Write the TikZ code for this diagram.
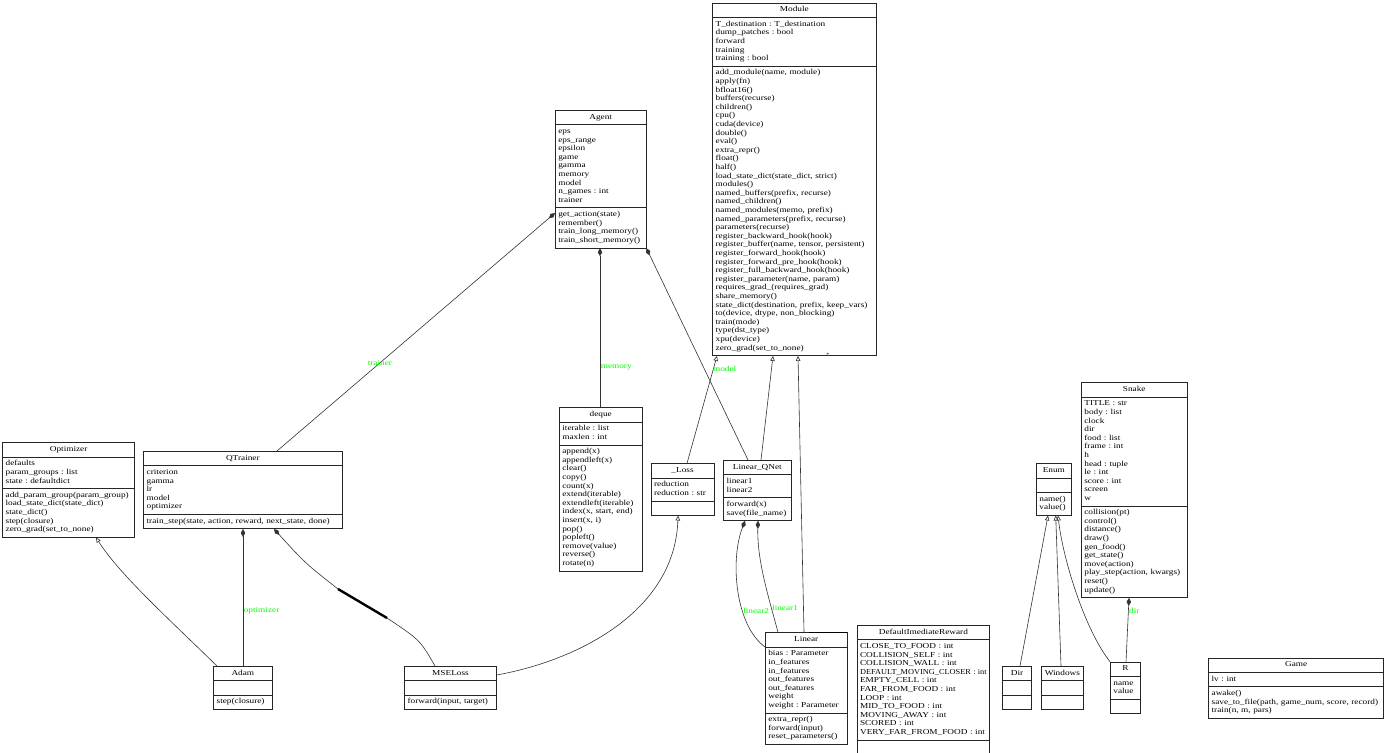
\documentclass[tikz,border=0pt]{standalone}
\usepackage{fontspec}
\usepackage{graphicx}
\setmainfont{Liberation Serif}[FakeStretch=1.22]
\usetikzlibrary{shapes.multipart,arrows.meta}
\frenchspacing
\newcommand{\ctitle}[1]{\makebox[\linewidth]{\strut #1\strut}}

\begin{document}
\begin{tikzpicture}[x=1pt, y=-1pt,
  cls/.style={draw=black!85, line width=0.7pt, rectangle split, rectangle split parts=3,
    align=left, inner xsep=3pt, inner ysep=2.5pt, anchor=north west,
    font=\fontsize{7.6}{8.6}\selectfont},
  inh/.style={draw=black!80, line width=0.6pt, -{Triangle[open, length=5pt, width=4.5pt]}},
  comp/.style={draw=black!80, line width=0.6pt, -{Diamond[length=8pt, width=4.5pt]}},
  lbl/.style={text=green, inner sep=0.5pt, font=\fontsize{7.6}{8.6}\selectfont}]
  \useasboundingbox (0,0) rectangle (1386,752);
  % torch side: Module and the network / loss classes
  \node[cls, text width=157.4pt] (module) at (712.3,2.7) {\ctitle{Module}
    \nodepart{two}\strut T\_destination : T\_destination\\ dump\_patches : bool\\ forward\\ training\\ training : bool\strut
    \nodepart{three}\strut add\_module(name, module)\\ apply(fn)\\ bfloat16()\\ buffers(recurse)\\ children()\\ cpu()\\
    cuda(device)\\ double()\\ eval()\\ extra\_repr()\\ float()\\ half()\\ load\_state\_dict(state\_dict, strict)\\
    modules()\\ named\_buffers(prefix, recurse)\\ named\_children()\\ named\_modules(memo, prefix)\\
    named\_parameters(prefix, recurse)\\ parameters(recurse)\\ register\_backward\_hook(hook)\\
    register\_buffer(name, tensor, persistent)\\ register\_forward\_hook(hook)\\ register\_forward\_pre\_hook(hook)\\
    register\_full\_backward\_hook(hook)\\ register\_parameter(name, param)\\ requires\_grad\_(requires\_grad)\\
    share\_memory()\\ state\_dict(destination, prefix, keep\_vars)\\ to(device, dtype, non\_blocking)\\
    train(mode)\\ type(dst\_type)\\ xpu(device)\\ zero\_grad(set\_to\_none)\strut};
  \node[cls, text width=57pt] (loss) at (650.7,463.3) {\ctitle{\_Loss}
    \nodepart{two}\strut reduction\\ reduction : str\strut
    \nodepart{three}\strut};
  \node[cls, text width=61.4pt] (qnet) at (723.3,460) {\ctitle{Linear\_QNet}
    \nodepart{two}\strut linear1\\ linear2\strut
    \nodepart{three}\strut forward(x)\\ save(file\_name)\strut};
  \node[cls, text width=75.7pt] (linear) at (765,632.3) {\ctitle{Linear}
    \nodepart{two}\strut bias : Parameter\\ in\_features\\ in\_features\\ out\_features\\ out\_features\\ weight\\ weight : Parameter\strut
    \nodepart{three}\strut extra\_repr()\\ forward(input)\\ reset\_parameters()\strut};
  \node[cls, text width=85.7pt] (mseloss) at (404.3,666) {\ctitle{MSELoss}
    \nodepart{two}\strut
    \nodepart{three}\strut forward(input, target)\strut};
  % agent and trainer
  \node[cls, text width=84.7pt] (agent) at (555,110) {\ctitle{Agent}
    \nodepart{two}\strut eps\\ eps\_range\\ epsilon\\ game\\ gamma\\ memory\\ model\\ n\_games : int\\ trainer\strut
    \nodepart{three}\strut get\_action(state)\\ remember()\\ train\_long\_memory()\\ train\_short\_memory()\strut};
  \node[cls, text width=76.7pt] (deque) at (559,407.3) {\ctitle{deque}
    \nodepart{two}\strut iterable : list\\ maxlen : int\strut
    \nodepart{three}\strut append(x)\\ appendleft(x)\\ clear()\\ copy()\\ count(x)\\ extend(iterable)\\ extendleft(iterable)\\
    index(x, start, end)\\ insert(x, i)\\ pop()\\ popleft()\\ remove(value)\\ reverse()\\ rotate(n)\strut};
  \node[cls, text width=126pt] (optimizer) at (2.3,442.3) {\ctitle{Optimizer}
    \nodepart{two}\strut defaults\\ param\_groups : list\\ state : defaultdict\strut
    \nodepart{three}\strut add\_param\_group(param\_group)\\ load\_state\_dict(state\_dict)\\ state\_dict()\\ step(closure)\\ zero\_grad(set\_to\_none)\strut};
  \node[cls, text width=192.4pt] (qtrainer) at (143.3,451) {\ctitle{QTrainer}
    \nodepart{two}\strut criterion\\ gamma\\ lr\\ model\\ optimizer\strut
    \nodepart{three}\strut train\_step(state, action, reward, next\_state, done)\strut};
  \node[cls, text width=52.4pt] (adam) at (213.3,666) {\ctitle{Adam}
    \nodepart{two}\strut
    \nodepart{three}\strut step(closure)\strut};
  % game side
  \node[cls, text width=126.6pt] (reward) at (856.7,625) {\ctitle{DefaultImediateReward}
    \nodepart{two}\strut CLOSE\_TO\_FOOD : int\\ COLLISION\_SELF : int\\ COLLISION\_WALL : int\\ \resizebox{\linewidth}{\height}{DEFAULT\_MOVING\_CLOSER : int}\\
    EMPTY\_CELL : int\\ FAR\_FROM\_FOOD : int\\ LOOP : int\\ MID\_TO\_FOOD : int\\ MOVING\_AWAY : int\\ SCORED : int\\ VERY\_FAR\_FROM\_FOOD : int\strut
    \nodepart{three}\strut};
  \node[cls, text width=29pt] (enum) at (1036,463.3) {\ctitle{Enum}
    \nodepart{two}\strut
    \nodepart{three}\strut name()\\ value()\strut};
  \node[cls, text width=99.7pt] (snake) at (1081,382.3) {\ctitle{Snake}
    \nodepart{two}\strut TITLE : str\\ body : list\\ clock\\ dir\\ food : list\\ frame : int\\ h\\ head : tuple\\ le : int\\ score : int\\ screen\\ w\strut
    \nodepart{three}\strut collision(pt)\\ control()\\ distance()\\ draw()\\ gen\_food()\\ get\_state()\\ move(action)\\
    play\_step(action, kwargs)\\ reset()\\ update()\strut};
  \node[cls, text width=22.7pt] (dir) at (1002.3,666) {\ctitle{Dir}
    \nodepart{two}\strut \nodepart{three}\strut};
  \node[cls, text width=36.6pt] (windows) at (1040.7,666) {\ctitle{Windows}
    \nodepart{two}\strut \nodepart{three}\strut};
  \node[cls, text width=24pt] (r) at (1110,661.7) {\ctitle{R}
    \nodepart{two}\strut name\\ value\strut
    \nodepart{three}\strut};
  \node[cls, text width=169pt] (game) at (1208.3,657.7) {\ctitle{Game}
    \nodepart{two}\strut lv : int\strut
    \nodepart{three}\strut awake()\\ save\_to\_file(path, game\_num, score, record)\\ train(n, m, pars)\strut};
  % inheritance
  \draw[inh] (loss.north -| 687,0) -- (module.south -| 717,0);
  \draw[inh] (qnet.north -| 761,0) -- (module.south -| 773,0);
  \draw[inh] (linear.north -| 804,0) -- (module.south -| 798,0);
  \draw[inh] (adam.north -| 217,0) .. controls (170,620) and (120,575) .. (optimizer.south -| 96,0);
  \draw[inh] (mseloss.east |- 0,675) .. controls (580,660) and (675,610) .. (loss.south -| 678,0);
  \draw[inh] (dir.north -| 1020,0) -- (enum.south -| 1048,0);
  \draw[inh] (windows.north -| 1061,0) -- (enum.south -| 1055.7,0);
  \draw[inh] (r.north west) .. controls (1085,630) and (1063,560) .. (enum.south -| 1058,0);
  % composition
  \draw[comp] (qtrainer.north -| 277,0) -- node[lbl, pos=0.37] {trainer} (agent.west |- 0,213);
  \draw[comp] (deque.north -| 600,0) -- node[lbl, pos=0.25, anchor=west] {memory} (agent.south -| 600,0);
  \draw[comp] (qnet.north -| 748,0) -- node[lbl, pos=0.43, anchor=west, xshift=8pt] {model} (agent.south east);
  \draw[comp] (linear.north -| 778,0) .. controls (768,595) and (757,560) .. node[lbl, pos=0.22, anchor=west] {linear1} (qnet.south -| 758,0);
  \draw[comp] (linear.west |- 0,647) .. controls (735,625) and (730,560) .. node[lbl, pos=0.35, anchor=west] {linear2} (qnet.south -| 745,0);
  \draw[comp] (adam.north -| 243,0) -- node[lbl, pos=0.4, anchor=west] {optimizer} (qtrainer.south -| 243,0);
  \draw[comp] (mseloss.north -| 435,0) .. controls (420,640) .. (387,618) -- (338,589) .. controls (305,563) .. (qtrainer.south -| 274,0);
  \draw[comp] (r.north -| 1126,0) -- node[lbl, pos=0.8, anchor=west] {dir} (snake.south -| 1129,0);
  % stray marks
  \draw[line width=2.4pt] (387,618) -- (338,589);
  \draw[line width=1.6pt] (linear.north -| 809,0) -- (linear.north east);
  \node[inner sep=0pt, font=\fontsize{5}{5}\selectfont] (mark) at (828,355) {*};
\end{tikzpicture}
\end{document}
